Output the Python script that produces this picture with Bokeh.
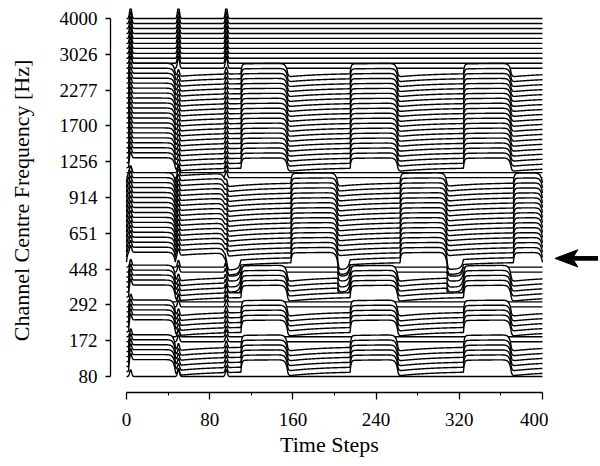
import numpy as np
from bokeh.plotting import figure
from bokeh.layouts import row
from bokeh.models import Range1d, FixedTicker
from bokeh.embed import file_html
from bokeh.resources import INLINE

# ---------------- data ----------------
n_channels = 73                      # channel 0 = 80 Hz (bottom) ... 72 = 4000 Hz (top)
freq_tick_labels = ["80", "172", "292", "448", "651", "914",
                    "1256", "1700", "2277", "3026", "4000"]
time_ticks = [0, 80, 160, 240, 320, 400]
time_minor_ticks = [40, 120, 200, 280, 360]
n_steps = 400

# tone A bursts (high band and low bands) and tone B bursts (middle band)
tone_a_on = [2, 110, 215, 324]
tone_a_off = [47, 155, 261, 370]
tone_b_on = [0, 47, 158, 263, 372]
tone_b_off = [47, 95, 203, 308, 400]
click_times = [4, 50, 96]

# short suppression between a tone-B offset and the next tone-A onset
dip_on = [95, 203, 308]
dip_off = [110, 215, 324]
dip_first = 18
dip_last = 24
dip_depth = 1.8

# channel bands responding to the tones
band_first = [1, 9, 16, 23, 42]
band_last = [6, 13, 20, 39, 61]
band_height = [2.4, 2.4, 2.4, 2.0, 2.0]      # response, in channel spacings
band_tone = ["a", "a", "a", "b", "a"]

top_band_first = 62                           # channels with strong click spikes
click_height_top = 2.4
click_height_low = 1.4
undershoot = 0.35

# arrow marking one channel (between 448 and 651 Hz), in data units
arrow_y = 3.3
arrow_tip_x = 412.0
arrow_head_back_x = 434.0
arrow_notch_x = 430.0
arrow_tail_x = 453.8
arrow_head_half = 0.24
arrow_shaft_half = 0.05

# ---------------- build traces ----------------
t = np.arange(0, n_steps + 0.5, 0.5)
spacing = 10.0 / (n_channels - 1)


def burst(on, off, under=True):
    s = np.clip(t - on, 0, None)
    u = np.clip(off - t, 0, None)
    inside = (t > on) & (t < off)
    env = np.where(inside, (1 - np.exp(-s / 0.8)) * (1 - np.exp(-u / 1.6)), 0.0)
    if not under or off >= n_steps:
        return env
    d = np.clip(t - off, 0, None)
    after = np.where(t > off, -undershoot * (1 - np.exp(-d / 0.8)) * np.exp(-d / 35.0), 0.0)
    return env + after


resp_a = sum(burst(a, b) for a, b in zip(tone_a_on, tone_a_off))
resp_b = sum(burst(a, b) for a, b in zip(tone_b_on, tone_b_off))
resp_dip = sum(burst(a, b, under=False) for a, b in zip(dip_on, dip_off))
click = sum(np.exp(-((t - c) / 1.3) ** 2) for c in click_times)

traces = []
for k in range(n_channels):
    r = np.zeros_like(t)
    for f, l, h, tone in zip(band_first, band_last, band_height, band_tone):
        if f <= k <= l:
            r = r + h * (resp_a if tone == "a" else resp_b)
    if dip_first <= k <= dip_last:
        r = r - dip_depth * resp_dip
    ch = click_height_top if k >= top_band_first else click_height_low
    r = r + ch * click
    traces.append(k * spacing + r * spacing)

# ---------------- main figure ----------------
y_range = Range1d(-0.447, 10.28)
p = figure(frame_width=438, frame_height=384,
           x_range=Range1d(-15.38, 405.8), y_range=y_range,
           min_border_left=110, min_border_right=0, min_border_top=8,
           min_border_bottom=66,
           output_backend="svg", toolbar_location=None)
p.background_fill_color = "white"
p.border_fill_color = "white"
p.outline_line_color = None
p.grid.visible = False

floor = -0.44
for k in range(n_channels - 1, -1, -1):
    y = traces[k]
    xs = np.concatenate([t, [t[-1], t[0]]])
    ys = np.concatenate([y, [floor, floor]])
    p.patch(xs, ys, fill_color="white", line_color=None)
    p.line(t, y, line_color="black", line_width=1.4)

font = "Liberation Serif"
p.xaxis.bounds = (0, 400)
p.xaxis.ticker = FixedTicker(ticks=time_ticks, minor_ticks=time_minor_ticks)
p.xaxis.axis_label = "Time Steps"
p.yaxis.bounds = (0, 10)
p.yaxis.ticker = FixedTicker(ticks=list(range(11)), minor_ticks=[])
p.yaxis.major_label_overrides = {i: lab for i, lab in enumerate(freq_tick_labels)}
p.yaxis.axis_label = "Channel Centre Frequency [Hz]"

for ax in (p.xaxis, p.yaxis):
    ax.axis_line_color = "black"
    ax.axis_line_width = 1.3
    ax.major_tick_line_color = "black"
    ax.major_tick_line_width = 1.3
    ax.minor_tick_line_color = "black"
    ax.major_tick_in = 0
    ax.minor_tick_in = 0
    ax.major_label_text_font = font
    ax.major_label_text_font_size = "19px"
    ax.major_label_text_color = "black"
    ax.axis_label_text_font = font
    ax.axis_label_text_font_size = "22px"
    ax.axis_label_text_font_style = "normal"
    ax.axis_label_text_color = "black"

p.xaxis.major_tick_out = 7
p.xaxis.minor_tick_out = 3
p.xaxis.major_label_standoff = 13
p.xaxis.axis_label_standoff = 3
p.yaxis.major_tick_out = 5
p.yaxis.minor_tick_out = 0
p.yaxis.major_label_standoff = 8
p.yaxis.axis_label_standoff = 23

# ---------------- side panel with the arrow ----------------
q = figure(frame_width=50, frame_height=384,
           x_range=Range1d(405.8, 405.8 + 50 / 1.04), y_range=y_range,
           min_border_left=0, min_border_right=0, min_border_top=8,
           min_border_bottom=66, x_axis_type=None, y_axis_type=None,
           output_backend="svg", toolbar_location=None)
q.background_fill_color = "white"
q.border_fill_color = "white"
q.outline_line_color = None
q.grid.visible = False

arrow_xs = [arrow_tip_x, arrow_head_back_x, arrow_notch_x, arrow_tail_x,
            arrow_tail_x, arrow_notch_x, arrow_head_back_x]
arrow_ys = [arrow_y, arrow_y + arrow_head_half, arrow_y + arrow_shaft_half,
            arrow_y + arrow_shaft_half, arrow_y - arrow_shaft_half,
            arrow_y - arrow_shaft_half, arrow_y - arrow_head_half]
q.patch(arrow_xs, arrow_ys, fill_color="black", line_color="black", line_width=1)

layout = row(p, q, spacing=0)
open("out.html", "w").write(file_html(layout, INLINE))
